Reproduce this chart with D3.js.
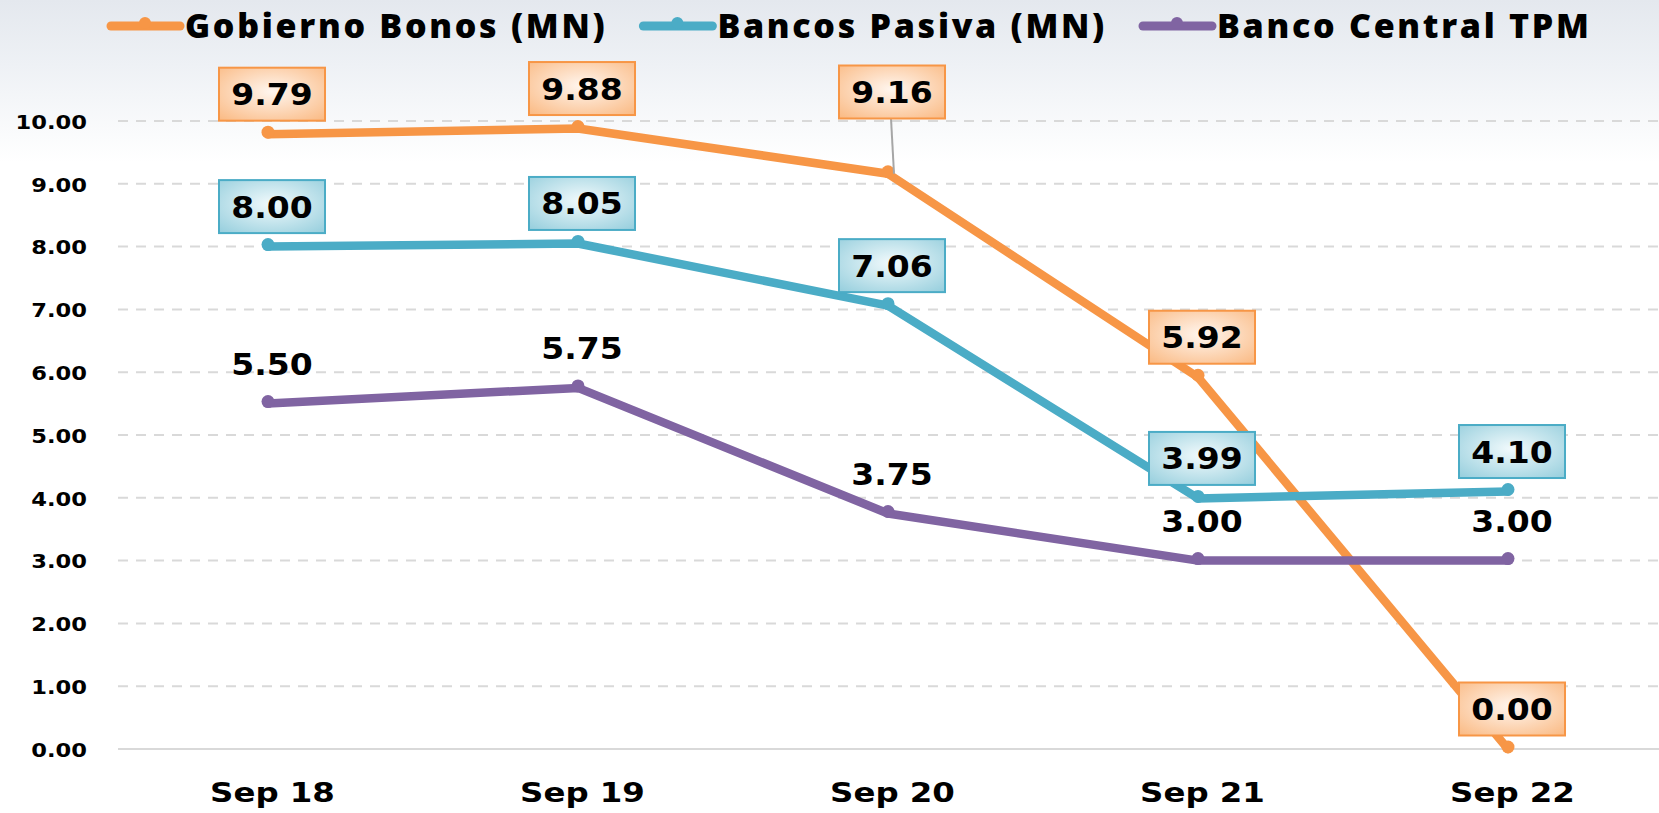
<!DOCTYPE html>
<html>
<head>
<meta charset="utf-8">
<script src="https://cdn.jsdelivr.net/npm/d3@7"></script>
<style>
  body { margin: 0; background: #fff; }
  svg { display: block; }
</style>
</head>
<body>
<div id="chart"></div>
<script>
// data
var categories = ["Sep 18", "Sep 19", "Sep 20", "Sep 21", "Sep 22"];
var gobiernoBonos = [9.79, 9.88, 9.16, 5.92, 0.00];
var bancosPasiva = [8.00, 8.05, 7.06, 3.99, 4.10];
var bancoCentral = [5.50, 5.75, 3.75, 3.00, 3.00];
var yTicks = [0, 1, 2, 3, 4, 5, 6, 7, 8, 9, 10];
var seriesNames = ["Gobierno Bonos (MN)", "Bancos Pasiva (MN)", "Banco Central TPM"];

var width = 1659, height = 813;
var colors = ["#f79646", "#4bacc6", "#8064a2"];

var svg = d3.select("#chart").append("svg")
  .attr("width", width)
  .attr("height", height);

var defs = svg.append("defs");

// light textured top fading to white
var bg = defs.append("linearGradient").attr("id", "bgGrad")
  .attr("x1", 0).attr("y1", 0).attr("x2", 0).attr("y2", 1);
bg.append("stop").attr("offset", "0%").attr("stop-color", "#e4e8ee");
bg.append("stop").attr("offset", "8%").attr("stop-color", "#eef1f5");
bg.append("stop").attr("offset", "20%").attr("stop-color", "#ffffff");
svg.append("rect").attr("width", width).attr("height", height).attr("fill", "url(#bgGrad)");

// box fills for the labels
function boxGrad(id, inner, outer) {
  var g = defs.append("radialGradient").attr("id", id)
    .attr("cx", "50%").attr("cy", "45%").attr("r", "75%");
  g.append("stop").attr("offset", "0%").attr("stop-color", inner);
  g.append("stop").attr("offset", "100%").attr("stop-color", outer);
}
boxGrad("orangeBox", "#fff6ef", "#fab880");
boxGrad("blueBox", "#f2fafc", "#93cddc");

var x = d3.scalePoint()
  .domain(categories)
  .range([113, 1663])
  .padding(0.5);

var y = d3.scaleLinear()
  .domain([0, 10])
  .range([749, 121]);

// gridlines
svg.append("g").selectAll("line")
  .data(yTicks)
  .enter().append("line")
    .attr("x1", 118).attr("x2", width)
    .attr("y1", function(d){ return y(d); })
    .attr("y2", function(d){ return y(d); })
    .attr("stroke", "#d9d9d9")
    .attr("stroke-width", 2)
    .attr("stroke-dasharray", function(d){ return d == 0 ? null : "10,8"; });

// y axis labels
var yAxis = d3.axisLeft(y).tickValues(yTicks).tickSize(0).tickFormat(d3.format(".2f"));
var yG = svg.append("g").attr("transform", "translate(98,0)").call(yAxis);
yG.select(".domain").remove();
yG.selectAll("text")
  .attr("x", 0).attr("dy", "0.36em")
  .attr("transform", function(){ return "translate(-11,0) scale(1.13,1)"; })
  .style("font-family", "DejaVu Sans")
  .style("font-weight", "bold")
  .style("font-size", "20px")
  .attr("fill", "#000");

// x axis labels
var xAxis = d3.axisBottom(x).tickSize(0);
var xG = svg.append("g").attr("transform", "translate(4,802)").call(xAxis);
xG.select(".domain").remove();
xG.selectAll(".tick text")
  .attr("y", 0).attr("dy", 0)
  .attr("transform", "scale(1.2,1)")
  .style("font-family", "DejaVu Sans")
  .style("font-weight", "bold")
  .style("font-size", "27px")
  .attr("fill", "#000");

var allSeries = [gobiernoBonos, bancosPasiva, bancoCentral];

var line = d3.line()
  .x(function(d, i){ return x(categories[i]); })
  .y(function(d){ return y(d); });

allSeries.forEach(function(vals, s){
  svg.append("path")
    .datum(vals)
    .attr("d", line)
    .attr("fill", "none")
    .attr("stroke", colors[s])
    .attr("stroke-width", 8.5)
    .attr("stroke-linejoin", "round")
    .attr("stroke-linecap", "round");
  svg.append("g").selectAll("circle")
    .data(vals)
    .enter().append("circle")
      .attr("cx", function(d, i){ return x(categories[i]); })
      .attr("cy", function(d){ return y(d) - 2; })
      .attr("r", 6.5)
      .attr("fill", colors[s]);
});

// data labels
var boxW = 106, boxH = 53;
function addLabel(val, i, s) {
  var cx = x(categories[i]) + 4;
  var cy = y(val) - 40;
  var g = svg.append("g");
  if (s == 0 && i == 2) {
    // this one was dragged up in the original, with a leader line
    var ny = y(10) - 29;
    g.append("line")
      .attr("x1", cx - 1).attr("y1", ny + boxH / 2)
      .attr("x2", x(categories[i]) + 6).attr("y2", y(val))
      .attr("stroke", "#a6a6a6").attr("stroke-width", 2);
    cy = ny;
  }
  if (s < 2) {
    g.append("rect")
      .attr("x", cx - boxW / 2).attr("y", cy - boxH / 2)
      .attr("width", boxW).attr("height", boxH)
      .attr("fill", s == 0 ? "url(#orangeBox)" : "url(#blueBox)")
      .attr("stroke", colors[s])
      .attr("stroke-width", 2);
  }
  g.append("text")
    .attr("transform", "translate(" + cx + "," + (cy + 11) + ") scale(1.1,1)")
    .attr("text-anchor", "middle")
    .style("font-family", "DejaVu Sans")
    .style("font-weight", "bold")
    .style("font-size", "30px")
    .attr("fill", "#000")
    .text(d3.format(".2f")(val));
}
allSeries.forEach(function(vals, s){
  vals.forEach(function(v, i){ addLabel(v, i, s); });
});

// legend
var legend = svg.append("g").attr("transform", "translate(107,0)");
var lx = 0;
seriesNames.forEach(function(name, s){
  var item = legend.append("g").attr("transform", "translate(" + lx + ",0)");
  item.append("line")
    .attr("x1", 4).attr("x2", 73)
    .attr("y1", 26).attr("y2", 26)
    .attr("stroke", colors[s]).attr("stroke-width", 9)
    .attr("stroke-linecap", "round");
  item.append("circle").attr("cx", 38).attr("cy", 23).attr("r", 6).attr("fill", colors[s]);
  var t = item.append("text")
    .attr("x", 78).attr("y", 38)
    .style("font-family", "Open Sans")
    .style("font-weight", 800)
    .style("font-size", "34px")
    .style("letter-spacing", "2.7px")
    .attr("fill", "#000")
    .text(name);
  lx += 78 + t.node().getComputedTextLength() + 32;
});
</script>
</body>
</html>
